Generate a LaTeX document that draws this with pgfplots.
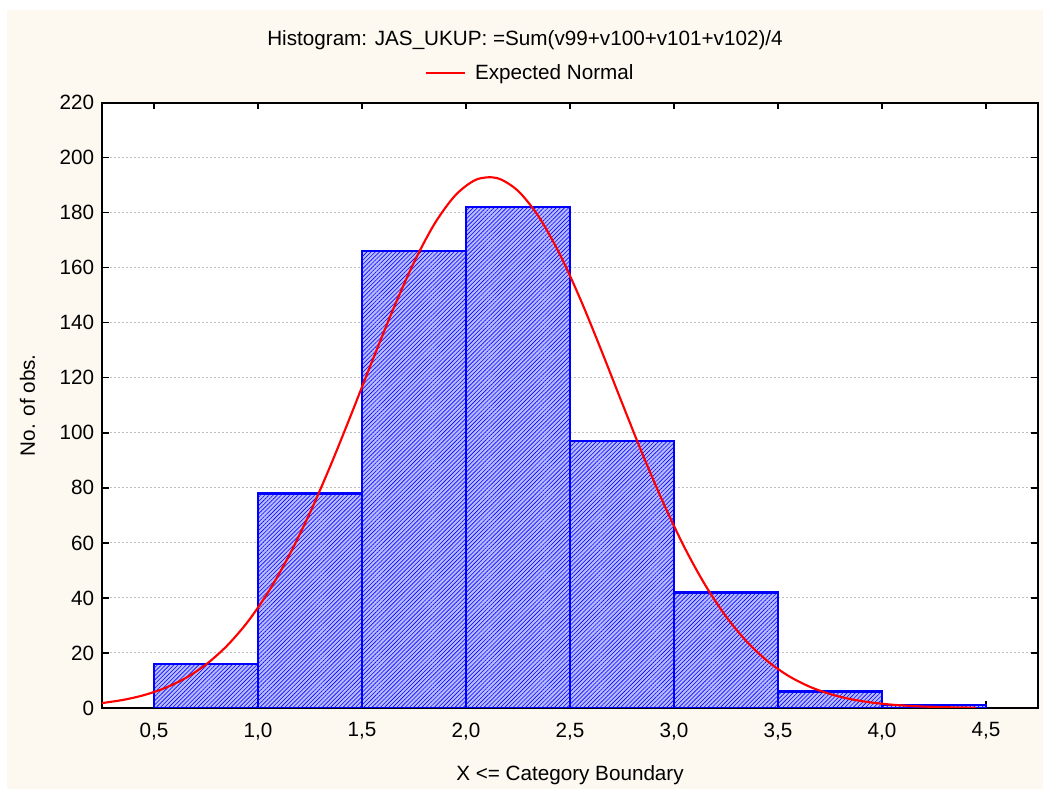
\documentclass[border=0pt]{standalone}
\usepackage{fontspec}
\setmainfont{Liberation Sans}
\usepackage{pgfplots}
\pgfplotsset{compat=1.18}
\usetikzlibrary{patterns.meta}
\definecolor{cream}{HTML}{FDF9F0}
\definecolor{hatchfill}{HTML}{B8BCFF}
\pgfplotsset{layers/mylayers/.define layer set={axis background,axis grid,main,axis ticks,axis lines,axis tick labels,axis descriptions,axis foreground}{}}

\begin{document}
\begin{tikzpicture}[font=\fontsize{15.5}{18.6}\selectfont]
\fill[white] (-76.5pt,-60.75pt) rectangle (705.75pt,531pt);
\fill[cream] (-71.25pt,-60.75pt) rectangle (705.75pt,523.5pt);
\begin{axis}[
  set layers=mylayers,
  scale only axis, width=702pt, height=454pt,
  at={(0pt,0pt)}, anchor=south west,
  xmin=0.25, xmax=4.75, ymin=0, ymax=220,
  xtick={0.5,1.0,1.5,2.0,2.5,3.0,3.5,4.0,4.5},
  ytick={0,20,40,60,80,100,120,140,160,180,200,220},
  axis background/.style={fill=white},
  axis line style={line width=1.6pt, black},
  tick align=inside, major tick length=5pt,
  tick style={black, line width=1pt},
  xticklabel pos=lower, yticklabel pos=left,
  /pgf/number format/assume math mode=true,
  xticklabel style={/pgf/number format/.cd, fixed, fixed zerofill, precision=1, use comma, assume math mode=true, /tikz/.cd, yshift=-7.5pt},
  yticklabel style={xshift=-2.3pt},
  ymajorgrids,
  major grid style={gray!50, dash pattern=on 1.5pt off 1.5pt, line width=0.75pt},
  xlabel={X <= Category Boundary},
  xlabel style={at={(axis description cs:0.5,-0.119)}, anchor=base},
  ylabel={No. of obs.},
  ylabel style={at={(axis description cs:-0.0716,0.5)}, anchor=base},
  legend style={draw=none, fill=none, at={(0.3447,1.049)}, anchor=west, inner sep=0pt},
  legend image code/.code={\draw[#1] (0pt,0pt) -- (29.5pt,0pt);},
]
\addplot[ybar interval, draw=blue, line width=1.8pt, fill=hatchfill,
  postaction={pattern={Lines[angle=45,distance=2.2pt,line width=0.45pt]}, pattern color=blue},
  forget plot] coordinates {
  (0.5,16) (1.0,78) (1.5,166) (2.0,182) (2.5,97) (3.0,42) (3.5,6) (4.0,1) (4.5,1)
};
\addplot[red, line width=1.6pt, smooth] coordinates {
  (0.25,1.79) (0.35,2.92) (0.45,4.64) (0.55,7.18) (0.65,10.80) (0.75,15.81)
  (0.85,22.54) (0.95,31.27) (1.05,42.22) (1.15,55.49) (1.25,70.97) (1.35,88.36)
  (1.45,107.07) (1.55,126.28) (1.65,144.96) (1.75,161.97) (1.85,176.14) (1.95,186.43)
  (2.05,192.06) (2.15,192.58) (2.25,187.95) (2.35,178.53) (2.45,165.06)
  (2.55,148.54) (2.65,130.09) (2.75,110.91) (2.85,92.02) (2.95,74.32) (3.05,58.41)
  (3.15,44.69) (3.25,33.28) (3.35,24.12) (3.45,17.01) (3.55,11.68) (3.65,7.81)
  (3.75,5.08) (3.85,3.21) (3.95,1.98) (4.05,1.19) (4.15,0.69) (4.25,0.39)
  (4.35,0.22) (4.45,0.12)
};
\addlegendentry{\hspace{4.5pt}Expected Normal}
\end{axis}
\node[anchor=base] at (317.25pt,496.5pt) {Histogram: JAS\_UKUP: =Sum(v99+v100+v101+v102)/4};
\end{tikzpicture}
\end{document}
